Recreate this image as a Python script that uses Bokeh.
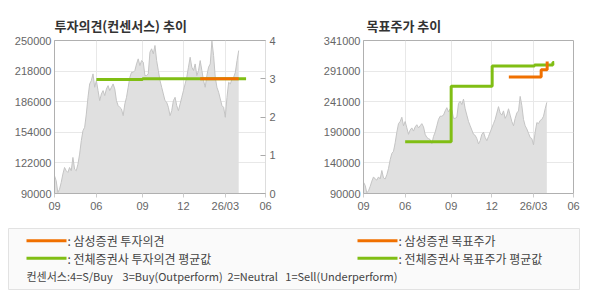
from bokeh.plotting import figure
from bokeh.models import Range1d, LinearAxis, FixedTicker, ColumnDataSource
from bokeh.layouts import column, row
from bokeh.embed import file_html
from bokeh.resources import INLINE
from bokeh.core.properties import value

# ---------------- data ----------------
x_ticks = [0, 25, 52.6, 77, 102, 126]
x_tick_labels = ["09", "06", "09", "12", "26/03", "06"]

price = [108500, 103300, 91000, 94500, 101500, 110300, 117200, 113800, 112000, 117200,
         113800, 127700, 115500, 113800, 120700, 131200, 145200, 155700, 159200, 173100,
         190600, 204600, 208100, 215100, 201100, 208100, 197600, 187100, 194100, 197600,
         192400, 199300, 202800, 197600, 201100, 204600, 199300, 187100, 181900, 180100,
         178400, 171400, 183600, 190600, 201100, 211600, 216800, 216800, 218600, 225500,
         230800, 223800, 229000, 227300, 213300, 213300, 215100, 237800, 241300, 236000,
         244800, 229000, 218600, 208100, 201100, 194100, 187100, 185400, 180100, 171400,
         176600, 187100, 190600, 181900, 176600, 183600, 190600, 197600, 204600, 211600,
         222100, 232500, 222100, 218600, 225500, 213300, 218600, 229000, 218600, 208100,
         201100, 213300, 222100, 225500, 249300, 234300, 211600, 201100, 195900, 188900,
         181900, 180100, 169700, 190600, 206300, 204600, 209800, 211600, 216800, 229000,
         239500]
price_x = list(range(len(price)))

# investment opinion (right axis, 0-4)
op_avg_x = [25, 52.6, 114.4]
op_avg = [2.98, 3.0, 3.0]
op_ss_x = [87, 110]
op_ss = [3.0, 3.0]

# target price
tp_avg_x = [25, 52.6, 77.2, 102.6, 113.6, 114.4]
tp_avg = [175000, 266000, 299000, 301000, 305000, 305000]
tp_ss_x = [87.2, 106.6, 110.2]
tp_ss = [281000, 293000, 306600]

y1_ticks = [90000, 122000, 154000, 186000, 218000, 250000]
y2_ticks = [90000, 140200, 190400, 240600, 290800, 341000]
y2_labels = ["90000", "140000", "190000", "241000", "291000", "341000"]
op_ticks = [0, 1, 2, 3, 4]

legend_left = [": 삼성증권 투자의견", ": 전체증권사 투자의견 평균값"]
legend_right = [": 삼성증권 목표주가", ": 전체증권사 목표주가 평균값"]
NB = "\u00a0"
legend_note = ("컨센서스:4=S/Buy" + NB * 4 + "3=Buy(Outperform)" + NB * 2 +
               "2=Neutral" + NB * 3 + "1=Sell(Underperform)")

ORANGE = "#f07000"
GREEN = "#80be14"
AREA = "#e0e0e0"
AREA_LINE = "#c4c4c4"
GRID = "#e8e8e8"
AXIS = "#b0b0b0"
LABEL = "#666666"
FONT = "Noto Sans CJK KR"
NUMFONT = "Liberation Sans"

src = ColumnDataSource(dict(x=price_x, y=price))


def style(p, ylabels=None):
    p.title.text_font = FONT
    p.title.text_font_size = "13px"
    p.title.text_font_style = "bold"
    p.title.text_color = "#333333"
    p.title.align = "left"
    p.title.standoff = 12
    p.outline_line_color = AXIS
    p.background_fill_color = "white"
    p.border_fill_color = "white"
    p.xgrid.ticker = FixedTicker(ticks=x_ticks)
    p.xgrid.grid_line_color = GRID
    p.ygrid.grid_line_color = GRID
    xa = p.xaxis[0]
    xa.ticker = FixedTicker(ticks=x_ticks)
    xa.major_label_overrides = {t: l for t, l in zip(x_ticks, x_tick_labels)}
    ya = p.yaxis[0]
    for ax in (xa, ya):
        ax.axis_line_color = AXIS
        ax.major_label_text_color = LABEL
        ax.major_label_text_font = NUMFONT
        ax.major_label_text_font_size = "11px"
        ax.minor_tick_line_color = None
    xa.major_tick_out = 4
    xa.major_tick_in = 0
    xa.major_tick_line_color = "#cccccc"
    xa.major_label_standoff = 2
    ya.major_tick_out = 0
    ya.major_tick_in = 0
    ya.major_label_standoff = 3
    if ylabels:
        ya.major_label_overrides = ylabels


# ---------------- chart 1 ----------------
p1 = figure(width=295, height=215, output_backend="svg", toolbar_location=None,
            x_range=Range1d(0, 126), y_range=Range1d(90000, 250000),
            title="투자의견(컨센서스) 추이",
            min_border_left=54, min_border_right=30, min_border_top=40, min_border_bottom=22)
p1.extra_y_ranges = {"op": Range1d(0, 4)}
p1.yaxis[0].ticker = FixedTicker(ticks=y1_ticks)
p1.ygrid.ticker = FixedTicker(ticks=y1_ticks)
style(p1)
p1.yaxis[0].formatter.use_scientific = False
ra = LinearAxis(y_range_name="op", ticker=FixedTicker(ticks=op_ticks))
ra.axis_line_color = "#dddddd"
ra.major_tick_in = 5
ra.major_tick_out = 0
ra.major_tick_line_color = "#aaaaaa"
ra.minor_tick_line_color = None
ra.major_label_text_color = LABEL
ra.major_label_text_font = NUMFONT
ra.major_label_text_font_size = "11px"
ra.major_label_standoff = 4
p1.add_layout(ra, "right")

p1.varea(x="x", y1=90000, y2="y", source=src, fill_color=AREA)
p1.line(x="x", y="y", source=src, line_color=AREA_LINE, line_width=1)
p1.step(x=op_avg_x, y=op_avg, mode="after", line_color=GREEN, line_width=3, y_range_name="op")
p1.step(x=op_ss_x, y=op_ss, mode="after", line_color=ORANGE, line_width=3, y_range_name="op")

# ---------------- chart 2 ----------------
p2 = figure(width=295, height=215, output_backend="svg", toolbar_location=None,
            x_range=Range1d(0, 126), y_range=Range1d(90000, 341000),
            title="목표주가 추이",
            min_border_left=68, min_border_right=17, min_border_top=40, min_border_bottom=22)
p2.yaxis[0].ticker = FixedTicker(ticks=y2_ticks)
p2.ygrid.ticker = FixedTicker(ticks=y2_ticks)
style(p2, {t: l for t, l in zip(y2_ticks, y2_labels)})
p2.title.offset = 3

p2.varea(x="x", y1=90000, y2="y", source=src, fill_color=AREA)
p2.line(x="x", y="y", source=src, line_color=AREA_LINE, line_width=1)
p2.step(x=tp_avg_x, y=tp_avg, mode="after", line_color=GREEN, line_width=3)
p2.step(x=tp_ss_x, y=tp_ss, mode="after", line_color=ORANGE, line_width=3)

# ---------------- legend panel ----------------
p3 = figure(width=590, height=85, output_backend="svg", toolbar_location=None,
            x_range=Range1d(0, 590), y_range=Range1d(85, 0),
            min_border=0, x_axis_type=None, y_axis_type=None)
p3.outline_line_color = None
p3.grid.visible = False
p3.background_fill_color = "white"
p3.border_fill_color = "white"
p3.quad(left=8, right=579, top=13, bottom=74, fill_color="#fafafa", line_color="#e2e2e2", line_width=1)
colors = [ORANGE, GREEN]
for i in range(2):
    yy = 25.3 + 17.4 * i
    p3.segment(x0=26, x1=66, y0=yy, y1=yy, line_color=colors[i], line_width=3)
    p3.segment(x0=357, x1=397, y0=yy, y1=yy, line_color=colors[i], line_width=3)
    p3.text(x=[67], y=[yy], text=[legend_left[i]], text_font=value(FONT), text_font_size="12px",
            text_color="#444444", text_baseline="middle")
    p3.text(x=[398], y=[yy], text=[legend_right[i]], text_font=value(FONT), text_font_size="12px",
            text_color="#444444", text_baseline="middle")
p3.text(x=[26], y=[60.3], text=[legend_note], text_font=value(FONT), text_font_size="11px",
        text_color="#444444", text_baseline="middle")

layout = column(row(p1, p2), p3)
open("out.html", "w").write(file_html(layout, INLINE))
